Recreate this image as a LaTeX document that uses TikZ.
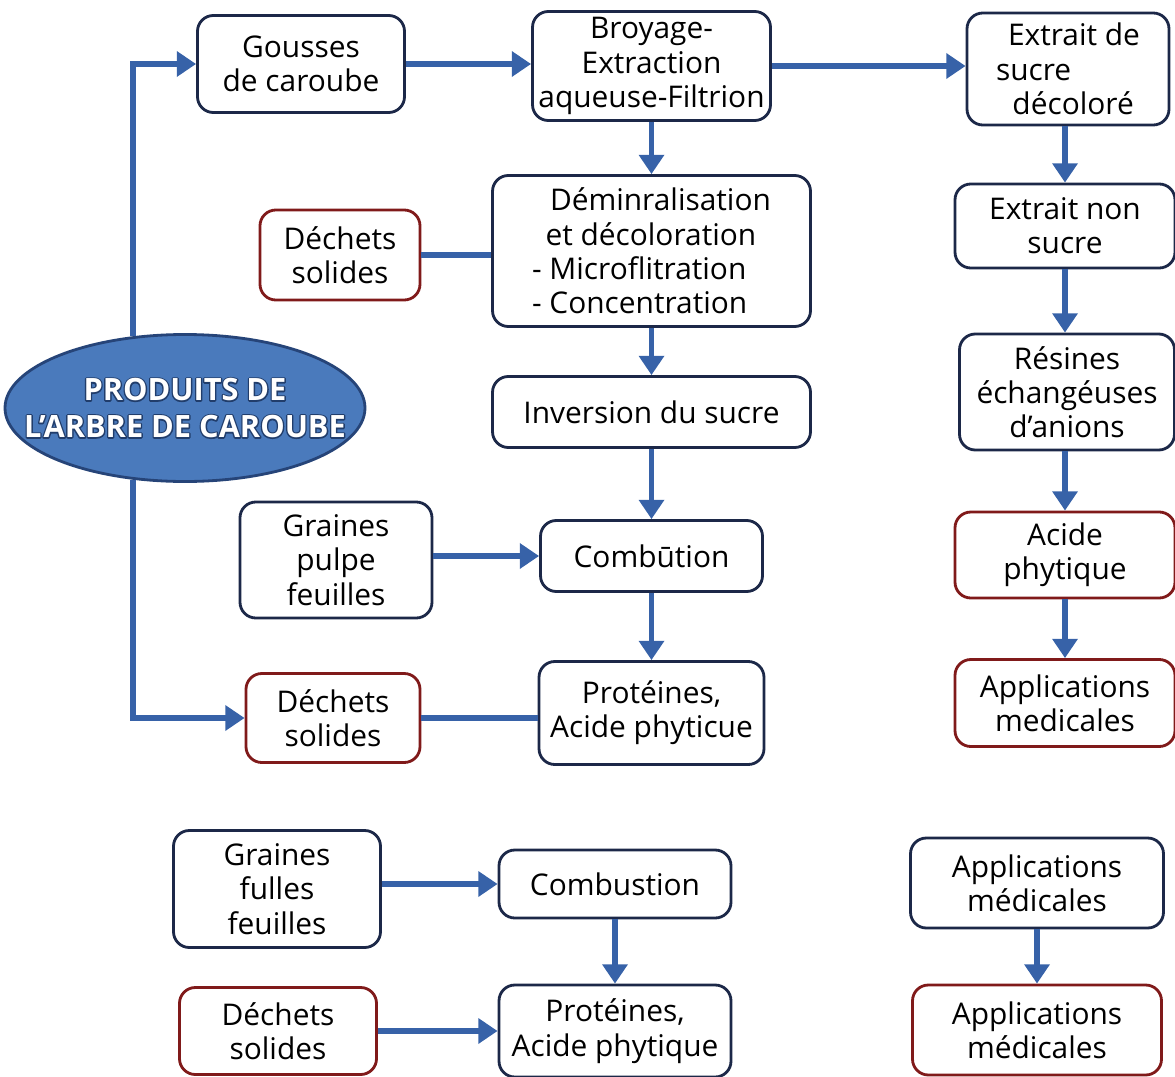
\documentclass[tikz,border=0pt]{standalone}
\usepackage{fontspec}
\setmainfont{Open Sans}
\usetikzlibrary{shapes,arrows,arrows.meta}
\definecolor{boxline}{RGB}{28,40,72}
\definecolor{redline}{RGB}{128,26,26}
\definecolor{arrowblue}{RGB}{55,98,168}
\definecolor{ovalfill}{RGB}{74,122,188}
\definecolor{ovalline}{RGB}{38,68,120}
\newcommand{\outlined}[1]{\rlap{\special{pdf:literal direct 1 Tr 1.5 w 1 J 1 j 0.13 0.24 0.42 RG}#1\special{pdf:literal direct 0 Tr}}#1}
\tikzstyle{block} = [rectangle, draw=boxline, line width=1.6pt, rounded corners=9pt, fill=white, align=center, font=\fontsize{17}{19.5}\selectfont, inner sep=2pt]
\tikzstyle{waste} = [block, draw=redline]
\tikzstyle{source} = [ellipse, draw=ovalline, line width=1.6pt, fill=ovalfill, minimum width=7.2cm, minimum height=2.94cm, inner sep=0pt]
\tikzstyle{sourcetext} = [text=white, font=\bfseries\fontsize{17.5}{21}\selectfont, align=center]
\tikzstyle{arrow} = [line width=3pt, arrowblue, -{Triangle[length=11pt,width=14pt]}]
\tikzstyle{line} = [line width=3pt, arrowblue]

\begin{document}
\begin{tikzpicture}
    \useasboundingbox (0,0) rectangle (23.5,-21.54);
    % Place nodes
    \node [source] (produits) at (3.7,-8.16) {};
    \node [sourcetext] (produitstext) at (produits.center) {\outlined{PRODUITS DE}\\\outlined{L’ARBRE DE CAROUBE}};
    \node [block, minimum width=4.14cm, minimum height=1.94cm] (gousses) at (6.02,-1.28) {Gousses\\de caroube};
    \node [block, minimum width=4.76cm, minimum height=2.18cm] (broyage) at (13.03,-1.32) {Broyage-\\Extraction\\aqueuse-Filtrion};
    \node [block, minimum width=6.36cm, minimum height=3.02cm, align=left] (demin) at (13.03,-5.02) {\hspace*{0.6em}Déminralisation\\\hspace*{0.45em}et décoloration\\- Microflitration\\- Concentration};
    \node [waste, minimum width=3.2cm, minimum height=1.8cm] (dechetsA) at (6.8,-5.1) {Déchets\\solides};
    \node [block, minimum width=6.36cm, minimum height=1.42cm] (inversion) at (13.03,-8.24) {Inversion du sucre};
    \node [block, minimum width=3.84cm, minimum height=2.32cm] (grainesA) at (6.72,-11.2) {Graines\\pulpe\\feuilles};
    \node [block, minimum width=4.44cm, minimum height=1.42cm] (combA) at (13.03,-11.12) {Combūtion};
    \node [block, minimum width=4.5cm, minimum height=2.06cm] (proteinesA) at (13.03,-14.26) {Protéines,\\Acide phyticue};
    \node [waste, minimum width=3.48cm, minimum height=1.78cm] (dechetsB) at (6.66,-14.36) {Déchets\\solides};

    \node [block, minimum width=4.04cm, minimum height=2.24cm, align=left] (extrait) at (21.36,-1.38) {\hspace*{0.4em}Extrait de\\sucre\\\hspace*{0.55em}décoloré};
    \node [block, minimum width=4.4cm, minimum height=1.68cm] (nonsucre) at (21.3,-4.52) {Extrait non\\sucre};
    \node [block, minimum width=4.3cm, minimum height=2.32cm] (resines) at (21.34,-7.84) {Résines\\échangéuses\\d’anions};
    \node [waste, minimum width=4.4cm, minimum height=1.72cm] (acide) at (21.3,-11.1) {Acide\\phytique};
    \node [waste, minimum width=4.4cm, minimum height=1.74cm] (applicA) at (21.3,-14.06) {Applications\\medicales};

    \node [block, minimum width=4.14cm, minimum height=2.34cm] (grainesB) at (5.54,-17.78) {Graines\\fulles\\feuilles};
    \node [block, minimum width=4.64cm, minimum height=1.36cm] (combB) at (12.3,-17.68) {Combustion};
    \node [waste, minimum width=3.94cm, minimum height=1.74cm] (dechetsC) at (5.56,-20.62) {Déchets\\solides};
    \node [block, minimum width=4.64cm, minimum height=1.84cm] (proteinesB) at (12.3,-20.62) {Protéines,\\Acide phytique};
    \node [block, minimum width=5.06cm, minimum height=1.8cm] (applicB) at (20.74,-17.66) {Applications\\médicales};
    \node [waste, minimum width=4.98cm, minimum height=1.8cm] (applicC) at (20.74,-20.6) {Applications\\médicales};

    % Connectors
    \draw [arrow] (produits.126) |- (gousses.west);
    \draw [arrow] (produits.234) |- (dechetsB.west);
    \draw [arrow] (gousses.east) -- (gousses.east -| broyage.west);
    \draw [arrow] (broyage.east) -- (broyage.east -| extrait.west);
    \draw [arrow] (broyage) -- (demin);
    \draw [line] (dechetsA.east) -- (dechetsA.east -| demin.west);
    \draw [arrow] (demin) -- (inversion);
    \draw [arrow] (inversion) -- (combA);
    \draw [arrow] (combA.west -| grainesA.east) -- (combA.west);
    \draw [arrow] (combA) -- (proteinesA);
    \draw [line] (dechetsB.east) -- (dechetsB.east -| proteinesA.west);

    \draw [arrow] (extrait.south -| nonsucre.north) -- (nonsucre.north);
    \draw [arrow] (nonsucre.south) -- (nonsucre.south |- resines.north);
    \draw [arrow] (resines.south -| acide.north) -- (acide.north);
    \draw [arrow] (acide) -- (applicA);

    \draw [arrow] (combB.west -| grainesB.east) -- (combB.west);
    \draw [arrow] (combB) -- (proteinesB);
    \draw [arrow] (dechetsC) -- (proteinesB);
    \draw [arrow] (applicB) -- (applicC);
\end{tikzpicture}
\end{document}
